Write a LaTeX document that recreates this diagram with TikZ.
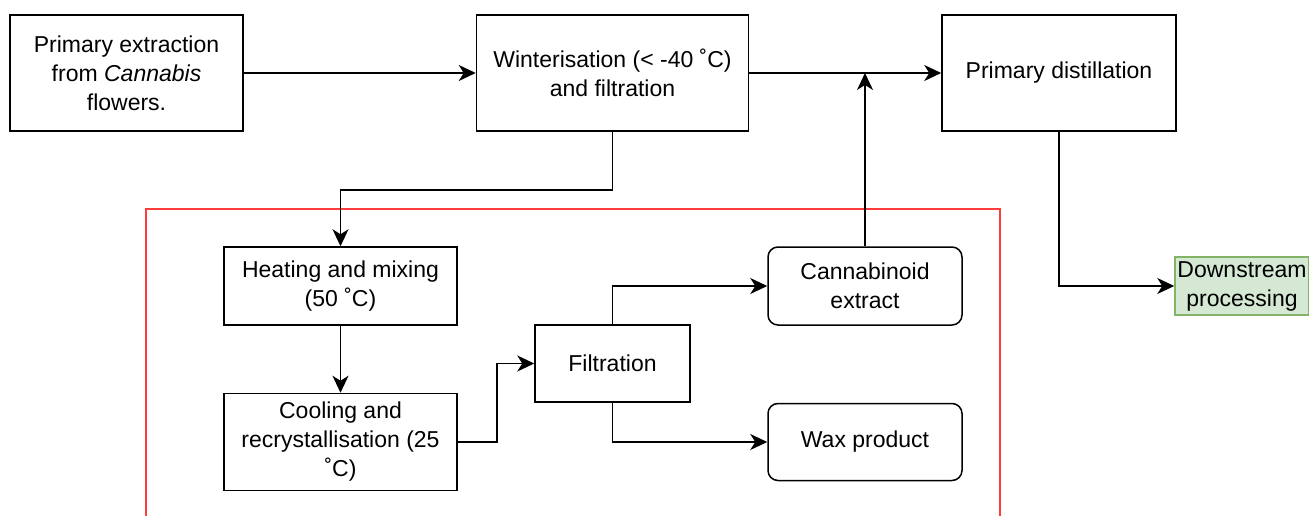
\documentclass[tikz,border=0pt]{standalone}
\usepackage{fontspec}
\setmainfont{Liberation Sans}
\usetikzlibrary{positioning, arrows.meta}
\definecolor{boxline}{RGB}{0,0,0}
\definecolor{framered}{RGB}{255,60,60}
\definecolor{greenfill}{RGB}{213,232,212}
\definecolor{greenline}{RGB}{130,179,102}
\tikzset{
  procbox/.style={
    rectangle, draw=boxline, line width=1.5pt,
    fill=white, align=center, inner sep=3pt,
    font=\fontsize{23}{29}\selectfont
  },
  prodbox/.style={procbox, rounded corners=10pt},
  endbox/.style={
    procbox, draw=greenline, fill=greenfill, inner sep=1pt
  },
  flowline/.style={
    -{Stealth[length=17pt, width=16pt, inset=5pt]}, draw=boxline, line width=1.5pt
  },
  frameline/.style={draw=framered, line width=1.5pt}
}
\begin{document}
\begin{tikzpicture}
  \useasboundingbox (0,0) rectangle (1309pt,-516pt);

  % top row
  \node[procbox, minimum width=233pt, minimum height=116pt] (prim) at (126.5pt,-73pt)
    {Primary extraction\\from \textit{Cannabis}\\flowers.};
  \node[procbox, minimum width=272pt, minimum height=116pt, right=232pt of prim] (winter)
    {Winterisation (< -40 ˚C)\\and filtration};
  \node[procbox, minimum width=234pt, minimum height=116pt, right=192pt of winter] (distil)
    {Primary distillation};

  % wax removal loop
  \draw[frameline] (146pt,-516pt) |- (1000pt,-209pt) -- (1000pt,-516pt);
  \node[procbox, minimum width=233pt, minimum height=78pt] (heat) at (340.5pt,-286pt)
    {Heating and mixing\\(50 ˚C)};
  \node[procbox, minimum width=233pt, minimum height=97pt, below=67pt of heat] (cool)
    {Cooling and\\recrystallisation (25\\˚C)};
  \node[procbox, minimum width=155pt, minimum height=77pt] (filt) at (612.5pt,-363.5pt)
    {Filtration};
  \node[prodbox, minimum width=194pt, minimum height=78pt] (cext) at (865pt,-286pt)
    {Cannabinoid\\extract};
  \node[prodbox, minimum width=194pt, minimum height=77pt, below=77pt of cext] (wax)
    {Wax product};
  \node[endbox, minimum width=134pt, minimum height=58pt] (down) at (1242pt,-286pt)
    {Downstream\\processing};

  \coordinate (join) at (cext.north |- winter.east);

  \draw[flowline] (prim) -- (winter);
  \draw[flowline] (winter) -- (distil);
  \draw[flowline] (cext) -- (join);
  \draw[flowline] (winter.south) -- ++(0,-58pt) -| (heat.north);
  \draw[flowline] (heat) -- (cool);
  \draw[flowline] (cool.east) -- ++(39pt,0) |- (filt.west);
  \draw[flowline] (filt.north) |- (cext.west);
  \draw[flowline] (filt.south) |- (wax.west);
  \draw[flowline] (distil.south) |- (down.west);
\end{tikzpicture}
\end{document}
